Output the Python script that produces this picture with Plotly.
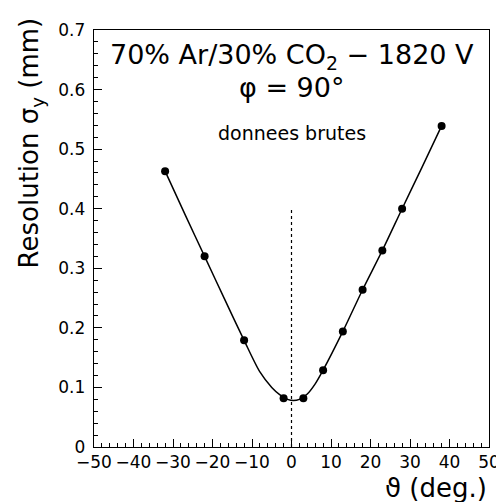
import plotly.graph_objects as go

# measured points
theta = [-32, -22, -12, -2, 3, 8, 13, 18, 23, 28, 38]
sigma_y = [0.463, 0.320, 0.179, 0.082, 0.082, 0.129, 0.194, 0.264, 0.330, 0.400, 0.539]

# fitted curve
fit_theta = [-32, -27, -22, -17, -12, -8, -5, -3, -1, 0.5, 2, 4, 6, 8, 13, 18, 23, 28, 33, 38]
fit_sigma = [0.463, 0.391, 0.320, 0.249, 0.179, 0.126, 0.100, 0.088, 0.080, 0.078,
             0.080, 0.089, 0.106, 0.129, 0.194, 0.264, 0.330, 0.400, 0.469, 0.539]

# vertical reference at theta = 0
ref_theta = [0, 0]
ref_sigma = [0, 0.4]

FONT = "DejaVu Sans, sans-serif"

fig = go.Figure()

fig.add_trace(go.Scatter(
    x=ref_theta, y=ref_sigma, mode='lines',
    line=dict(color='black', width=1.2, dash='dot'),
    hoverinfo='skip'
))

fig.add_trace(go.Scatter(
    x=fit_theta, y=fit_sigma, mode='lines',
    line=dict(color='black', width=1.5, shape='spline', smoothing=0.8),
    hoverinfo='skip'
))

fig.add_trace(go.Scatter(
    x=theta, y=sigma_y, mode='markers',
    marker=dict(color='black', size=8)
))

axis_common = dict(
    showline=True, linecolor='black', linewidth=1, mirror=True,
    ticks='inside', tickcolor='black', tickwidth=1, ticklen=8,
    showgrid=False, zeroline=False,
    tickfont=dict(family=FONT, size=17, color='black'),
)

fig.update_xaxes(
    range=[-50, 50], dtick=10, tick0=-50,
    minor=dict(dtick=2, ticks='inside', ticklen=4, tickcolor='black'),
    **axis_common
)
fig.update_yaxes(
    range=[0, 0.7], dtick=0.1, tick0=0,
    minor=dict(dtick=0.02, ticks='inside', ticklen=4, tickcolor='black'),
    ticksuffix="\u2005",
    **axis_common
)

# texts
fig.add_annotation(text="70% Ar/30% CO<sub>2</sub> − 1820 V", xref='paper', yref='paper',
                   x=0.5, y=0.936, yanchor='middle', showarrow=False,
                   font=dict(family=FONT, size=27, color='black'))
fig.add_annotation(text="φ = 90°", xref='paper', yref='paper',
                   x=0.5, y=0.862, yanchor='middle', showarrow=False,
                   font=dict(family=FONT, size=27, color='black'))
fig.add_annotation(text="donnees brutes", xref='paper', yref='paper',
                   x=0.5, y=0.753, yanchor='middle', showarrow=False,
                   font=dict(family=FONT, size=19, color='black'))

fig.add_annotation(text="Resolution σ<sub>y</sub> (mm)", xref='paper', yref='paper',
                   x=-0.16, y=0.73, xanchor='center', yanchor='middle',
                   textangle=-90, showarrow=False,
                   font=dict(family=FONT, size=26, color='black'))
fig.add_annotation(text="ϑ (deg.)", xref='paper', yref='paper',
                   x=1.0, y=-0.14, xanchor='right', yanchor='bottom', showarrow=False,
                   font=dict(family=FONT, size=26, color='black'))

fig.update_layout(
    width=504, height=502,
    margin=dict(l=86, r=12, t=21, b=63),
    plot_bgcolor='white', paper_bgcolor='white',
    showlegend=False,
)

fig.write_html("out.html")
